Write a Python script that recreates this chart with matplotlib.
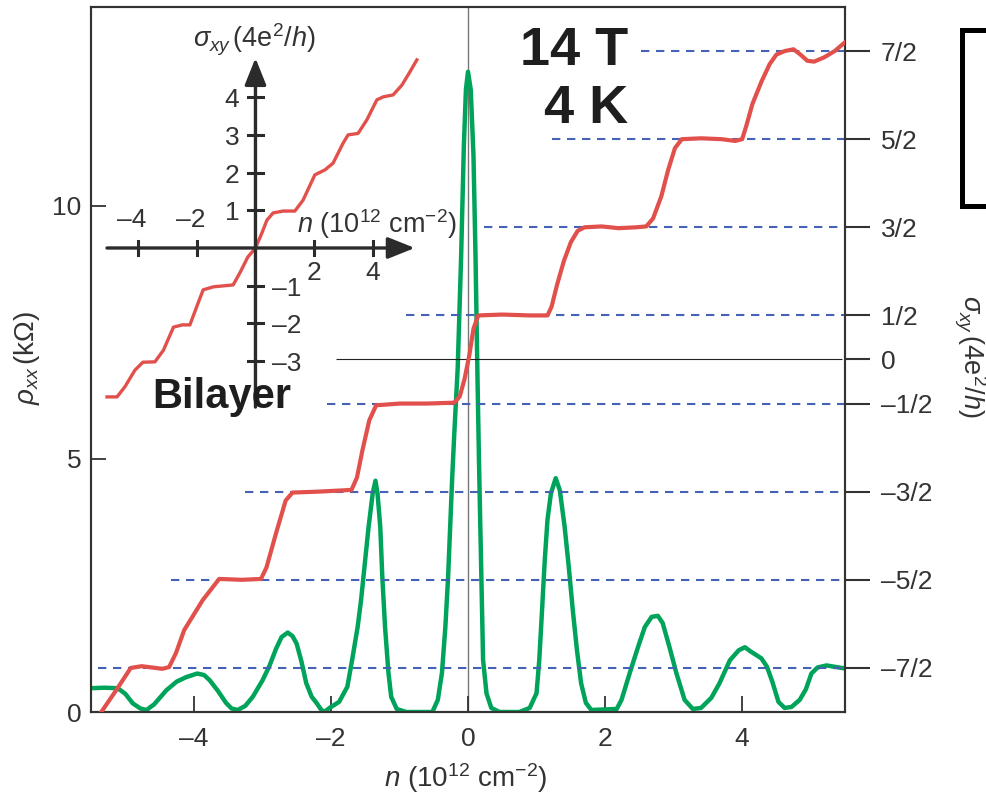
import numpy as np
import matplotlib.pyplot as plt
from matplotlib.lines import Line2D

plt.rcParams['font.family'] = ['Liberation Sans', 'DejaVu Sans']
plt.rcParams['mathtext.fontset'] = 'custom'
plt.rcParams['mathtext.rm'] = 'Liberation Sans'
plt.rcParams['mathtext.it'] = 'Liberation Sans:italic'
plt.rcParams['mathtext.bf'] = 'Liberation Sans:bold'

# rho_xx (kOhm) vs n (10^12 cm^-2)
n_rho = [-5.51, -5.3, -5.11, -5.0, -4.89, -4.78, -4.69, -4.58, -4.4, -4.25, -4.11,
         -3.95, -3.85, -3.77, -3.65, -3.53, -3.45, -3.36, -3.25, -3.14, -3.0, -2.9,
         -2.8, -2.72, -2.63, -2.56, -2.5, -2.43, -2.36, -2.28, -2.21, -2.15, -2.1,
         -2.02, -1.88, -1.76, -1.69, -1.61, -1.56, -1.51, -1.45, -1.39, -1.35,
         -1.32, -1.28, -1.25, -1.21, -1.16, -1.12, -1.04, -0.9, -0.52, -0.44, -0.38,
         -0.33, -0.29, -0.26, -0.23, -0.2, -0.15, -0.1, -0.06, -0.03, 0.0, 0.04,
         0.08, 0.11, 0.14, 0.16, 0.18, 0.2, 0.22, 0.27, 0.34, 0.46, 0.75, 0.9, 1.0,
         1.04, 1.08, 1.12, 1.16, 1.21, 1.28, 1.34, 1.41, 1.47, 1.53, 1.59, 1.65,
         1.72, 1.8, 2.17, 2.24, 2.36, 2.48, 2.58, 2.68, 2.77, 2.84, 2.94, 3.04,
         3.16, 3.28, 3.4, 3.55, 3.67, 3.82, 3.95, 4.04, 4.12, 4.28, 4.36, 4.44,
         4.53, 4.62, 4.72, 4.84, 4.93, 5.01, 5.1, 5.23, 5.5]
rho_xx = [0.47, 0.48, 0.47, 0.36, 0.17, 0.07, 0.04, 0.15, 0.43, 0.6, 0.69,
          0.76, 0.73, 0.63, 0.42, 0.18, 0.07, 0.04, 0.12, 0.3, 0.62, 0.9,
          1.25, 1.48, 1.57, 1.5, 1.35, 1.0, 0.57, 0.3, 0.18, 0.06, 0.0,
          0.08, 0.2, 0.5, 1.03, 1.68, 2.21, 2.87, 3.66, 4.32, 4.57,
          4.32, 3.66, 2.67, 1.68, 0.77, 0.3, 0.06, 0.0, 0.0, 0.24, 0.77,
          1.68, 2.67, 3.66, 4.64, 5.5, 6.8, 9.0, 11.2, 12.3, 12.65, 12.3,
          11.0, 9.0, 6.5, 5.0, 3.66, 2.35, 1.03, 0.37, 0.08, 0.0, 0.0, 0.08, 0.37,
          1.03, 2.0, 3.0, 3.8, 4.32, 4.62, 4.38, 3.66, 2.87, 2.0, 1.22, 0.57,
          0.18, 0.04, 0.06, 0.24, 0.77, 1.28, 1.68, 1.88, 1.9, 1.76, 1.28, 0.77,
          0.24, 0.06, 0.08, 0.28, 0.57, 1.02, 1.22, 1.28, 1.2, 1.06, 0.9, 0.6,
          0.2, 0.08, 0.1, 0.24, 0.45, 0.76, 0.88, 0.92, 0.86]

# sigma_xy (4e^2/h) of the monolayer vs n
n_sig = [-5.35, -5.13, -4.92, -4.76, -4.46, -4.36, -4.26, -4.14, -3.87, -3.63, -3.3,
         -3.02, -2.94, -2.8, -2.66, -2.56, -2.2, -1.7, -1.62, -1.54, -1.44, -1.34,
         -1.0, -0.6, -0.2, -0.12, -0.05, 0.02, 0.08, 0.15, 0.5, 0.9, 1.16, 1.22,
         1.3, 1.4, 1.5, 1.6, 1.7, 1.95, 2.2, 2.45, 2.6, 2.7, 2.82, 2.92, 3.02, 3.12,
         3.4, 3.7, 3.9, 4.0, 4.06, 4.15, 4.28, 4.4, 4.5, 4.62, 4.75, 4.85, 4.95,
         5.05, 5.2, 5.35, 5.5]
sig_xy = [-4.0, -3.75, -3.5, -3.48, -3.51, -3.49, -3.33, -3.07, -2.73, -2.49, -2.5,
          -2.49, -2.36, -1.97, -1.6, -1.51, -1.5, -1.48, -1.34, -1.03, -0.69, -0.52,
          -0.5, -0.5, -0.49, -0.42, -0.22, 0.05, 0.35, 0.5, 0.51, 0.5, 0.5, 0.6,
          0.85, 1.12, 1.33, 1.46, 1.5, 1.51, 1.49, 1.5, 1.51, 1.6, 1.85, 2.15, 2.4, 2.5,
          2.51, 2.5, 2.48, 2.5, 2.65, 2.9, 3.15, 3.35, 3.46, 3.5, 3.52, 3.46, 3.39,
          3.38, 3.43, 3.5, 3.6]

# bilayer sigma_xy for the inset
n_bi = [-5.05, -4.71, -4.44, -4.1, -3.83, -3.42, -3.13, -2.79, -2.49, -2.23, -2.0,
        -1.78, -1.43, -0.76, -0.53, -0.26, 0.0, 0.22, 0.39, 0.6, 0.94, 1.34, 1.62,
        2.02, 2.36, 2.64, 2.98, 3.15, 3.49, 3.79, 4.13, 4.35, 4.68, 4.98, 5.26, 5.49]
sig_bi = [-3.95, -3.95, -3.68, -3.24, -3.03, -3.02, -2.71, -2.1, -2.04, -2.04, -1.56,
          -1.11, -1.03, -0.98, -0.66, -0.24, 0.0, 0.4, 0.74, 0.93, 0.98, 0.98, 1.27,
          1.94, 2.07, 2.25, 2.78, 3.0, 3.04, 3.4, 3.93, 4.01, 4.06, 4.32, 4.68, 4.99]

plateaus = [3.5, 2.5, 1.5, 0.5, -0.5, -1.5, -2.5, -3.5]
plateau_from = [2.53, 1.22, 0.24, -0.9, -2.05, -3.25, -4.34, -5.4]
sig_ticks = [3.5, 2.5, 1.5, 0.5, 0, -0.5, -1.5, -2.5, -3.5]
sig_labels = ['7/2', '5/2', '3/2', '1/2', '0', '\u20131/2', '\u20133/2', '\u20135/2', '\u20137/2']
n_ticks = [-4, -2, 0, 2, 4]
n_labels = ['\u20134', '\u20132', '0', '2', '4']
rho_ticks = [0, 5, 10]

inset_xt = [-4, -2, 2, 4]
inset_yt = [4, 3, 2, 1, -1, -2, -3]

red = '#e2504c'
green = '#00a35a'
blue = '#4562b4'
dark = '#333333'

fig = plt.figure(figsize=(9.87, 7.95), dpi=100)
ax = fig.add_axes([0.0922, 0.1044, 0.7639, 0.8868])
ax.set_xlim(-5.5, 5.5)
ax.set_ylim(0, 13.93)
ax.axvline(0, color='#777777', lw=1.0, zorder=1)
ax.plot(n_rho, rho_xx, color=green, lw=3.2, zorder=3, solid_joinstyle='round')
ax.set_xticks(n_ticks)
ax.set_xticklabels(n_labels)
ax.set_yticks(rho_ticks)
ax.tick_params(axis='x', direction='in', length=11.5, width=1.3, pad=11,
               labelsize=19, color=dark, labelcolor=dark)
ax.tick_params(axis='y', direction='in', length=11, width=1.3, pad=7,
               labelsize=19, color=dark, labelcolor=dark)
for s in ax.spines.values():
    s.set_color(dark)
    s.set_linewidth(1.5)
ax.set_xlabel(r'$n$ (10$^{12}$ cm$^{-2}$)', fontsize=20, color=dark, va='center')
ax.xaxis.set_label_coords(0.497, -0.094)
ax.set_ylabel(r'$\rho_{xx}\,$(k$\Omega$)', fontsize=20, color=dark, va='center')
ax.yaxis.set_label_coords(-0.085, 0.502)

ax2 = ax.twinx()
ax2.set_ylim(-4, 4)
ax2.hlines(plateaus, plateau_from, 5.5, colors=blue, lw=1.5,
           linestyles=(0, (4, 3.2)), zorder=2)
ax2.hlines(0, -1.92, 5.45, colors='#222222', lw=0.8, zorder=2)
ax2.plot(n_sig, sig_xy, color=red, lw=3.0, zorder=4, solid_joinstyle='round')
ax2.set_yticks(sig_ticks)
ax2.set_yticklabels(sig_labels)
ax2.tick_params(axis='y', direction='out', length=18, width=1.5, pad=8,
                labelsize=19, color=dark, labelcolor=dark)
for s in ax2.spines.values():
    s.set_color(dark)
    s.set_linewidth(1.5)
ax2.set_ylabel(r'$\sigma_{xy}\,$(4e$^2$/$h$)', fontsize=19.5, color=dark,
               rotation=270)
ax2.yaxis.label.set_va('center')
ax2.yaxis.label.set_ha('center')
ax2.yaxis.set_label_coords(1.166, 0.505)

# inset: bilayer
ins = fig.add_axes([0.1013, 0.4843, 0.3343, 0.4528])
ins.set_xlim(-5.289, 5.935)
ins.set_ylim(-4.297, 5.252)
ins.axis('off')
ins.patch.set_alpha(0)
arr = dict(arrowstyle='-|>,head_length=0.55,head_width=0.22', mutation_scale=30,
           lw=2.4, color='#2b2b2b', shrinkA=0, shrinkB=0)
ins.annotate('', xy=(5.42, 0), xytext=(-5.05, 0), arrowprops=arr)
ins.annotate('', xy=(0, 5.04), xytext=(0, -4.22), arrowprops=arr)
for t in inset_xt:
    ins.plot([t, t], [-0.19, 0.19], color='#2b2b2b', lw=2.2)
for t in inset_yt:
    ins.plot([-0.25, 0.25], [t, t], color='#2b2b2b', lw=2.2)
ins.plot(n_bi, sig_bi, color=red, lw=2.4, solid_joinstyle='round')
for t in inset_xt:
    lab = '\u2013' + str(-t) if t < 0 else str(t)
    if t < 0:
        ins.text(t - 0.2, 0.74, lab, ha='center', va='center', fontsize=19, color=dark)
    else:
        ins.text(t, -0.66, lab, ha='center', va='center', fontsize=19, color=dark)
for t in inset_yt:
    if t > 0:
        ins.text(-0.55, t - 0.08, str(t), ha='right', va='center', fontsize=19, color=dark)
    else:
        ins.text(0.55, t - 0.08, '\u2013' + str(-t), ha='left', va='center',
                 fontsize=19, color=dark)
ins.text(-2.13, 5.52, r'$\sigma_{xy}\,$(4e$^2$/$h$)', ha='left', va='center',
         fontsize=19.5, color=dark)
ins.text(1.41, 0.64, r'$n$ (10$^{12}$ cm$^{-2}$)', ha='left', va='center',
         fontsize=19.5, color=dark)

fig.text(628 / 987, 1 - 65 / 795, '14 T', ha='right', va='baseline',
         fontsize=39, fontweight='bold', color='#1e1e1e')
fig.text(628 / 987, 1 - 123 / 795, '4 K', ha='right', va='baseline',
         fontsize=39, fontweight='bold', color='#1e1e1e')
fig.text(152 / 987, 1 - 408 / 795, 'Bilayer', ha='left', va='baseline',
         fontsize=30, fontweight='bold', color='#1e1e1e')

# bracket at the top right edge
fig.add_artist(Line2D([1.01, 962.5 / 987, 962.5 / 987, 1.01],
                      [1 - 29.5 / 795, 1 - 29.5 / 795, 1 - 206 / 795, 1 - 206 / 795],
                      color='black', lw=3.6, solid_joinstyle='miter'))

fig.savefig('out.png', dpi=100)
